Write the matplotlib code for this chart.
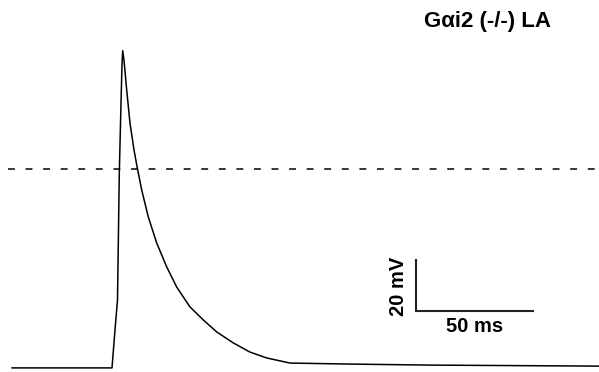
import matplotlib.pyplot as plt

# trace: time (ms) and membrane potential (mV)
time_ms = [-42.7, 0.0, 1.28, 2.35, 3.12, 3.85, 4.27, 4.57, 5.13, 6.28, 7.69,
           9.40, 10.81, 12.69, 15.51, 19.10, 23.38, 27.65, 33.33, 39.02,
           44.74, 51.84, 58.97, 66.11, 76.07, 101.7, 135.9, 208.1]
voltage_mv = [-78.0, -78.0, -63.1, -51.4, -1.6, 25.9, 40.8, 46.4, 42.7, 31.0,
              18.0, 7.5, 0.4, -8.2, -18.8, -29.0, -38.4, -46.3, -54.1, -59.2,
              -63.9, -68.2, -71.8, -74.1, -76.1, -76.5, -76.9, -77.3]

zero_level = 0.0          # dashed reference line
bar_time = 50             # ms
bar_volt = 20             # mV
title = "G\u03b1i2 (-/-) LA"

plt.rcParams['font.family'] = ['Liberation Sans', 'DejaVu Sans']

fig = plt.figure(figsize=(5.99, 3.72), dpi=100)
ax = fig.add_axes([0, 0, 1, 1])
ax.axis('off')

# pixel -> data mapping of the original image
ax.set_xlim(-112 / 2.34, (599 - 112) / 2.34)
ax.set_ylim((169 - 372) / 2.55, 169 / 2.55)

ax.plot(time_ms, voltage_mv, color='black', lw=1.1)
ax.axhline(zero_level, xmin=8 / 599, xmax=1, color='black', lw=1.1,
           dashes=(4.5, 7))

# scale bar
x0, y0 = 129.9, -55.7
ax.plot([x0, x0, x0 + bar_time], [y0 + bar_volt, y0, y0],
        color='#222222', lw=1.5, solid_joinstyle='miter')
ax.text(x0 + bar_time / 2, y0 - 2.5, f"{bar_time} ms", ha='center', va='top',
        fontsize=14.5, fontweight='bold')
ax.text(x0 - 3.5, y0 + bar_volt / 2 - 0.5, f"{bar_volt} mV", ha='right',
        va='center', rotation=90, fontsize=14.5, fontweight='bold')

fig.text(487 / 599, 1 - 22 / 372, title, ha='center', va='center',
         fontsize=16, fontweight='bold')

fig.savefig('out.png', dpi=100)
